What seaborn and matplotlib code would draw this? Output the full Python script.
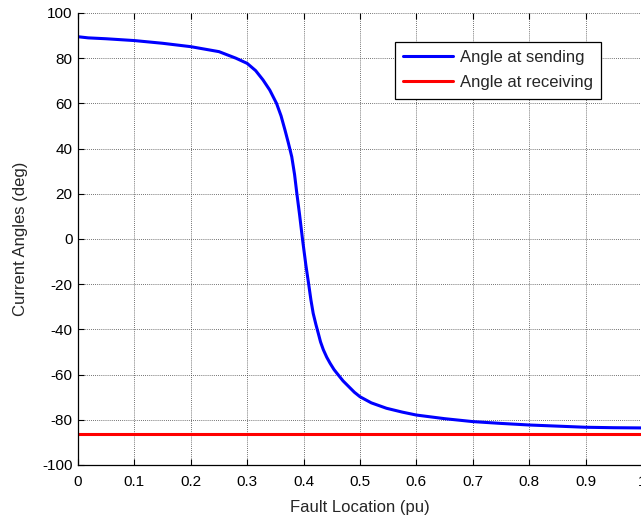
import matplotlib
matplotlib.use("Agg")
import matplotlib.pyplot as plt
import seaborn as sns
import pandas as pd

# ---- data ----
fault_location = [0.0, 0.018, 0.05, 0.1, 0.15, 0.2, 0.25, 0.28, 0.3, 0.315, 0.328,
                  0.34, 0.352, 0.36, 0.367, 0.373, 0.379, 0.384, 0.388, 0.393, 0.398,
                  0.404, 0.409, 0.413, 0.417, 0.422, 0.426, 0.43, 0.435, 0.441, 0.447,
                  0.454, 0.461, 0.47, 0.48, 0.49, 0.5, 0.52, 0.547, 0.575, 0.6, 0.65,
                  0.7, 0.75, 0.8, 0.85, 0.9, 0.95, 1.0]
angle_sending = [89.5, 89.0, 88.6, 87.8, 86.6, 85.1, 82.9, 80.0, 77.7, 74.5, 70.4,
                 65.9, 60.0, 54.5, 48.2, 42.5, 36.4, 28.5, 20.2, 10.5, 0.0,
                 -11.5, -20.0, -27.0, -32.9, -38.0, -41.7, -45.5, -49.0, -52.3, -55.0,
                 -57.8, -60.0, -62.8, -65.3, -67.8, -69.8, -72.5, -74.9, -76.6, -77.9, -79.5,
                 -80.8, -81.6, -82.3, -82.8, -83.3, -83.5, -83.6]
receiving_x = [0.0, 1.0]
angle_receiving = [-86.4, -86.4]

series_names = ["Angle at sending", "Angle at receiving"]
x_ticks = [0, 0.1, 0.2, 0.3, 0.4, 0.5, 0.6, 0.7, 0.8, 0.9, 1]
x_tick_labels = ["0", "0.1", "0.2", "0.3", "0.4", "0.5", "0.6", "0.7", "0.8", "0.9", "1"]
y_ticks = [-100, -80, -60, -40, -20, 0, 20, 40, 60, 80, 100]

df_send = pd.DataFrame({"x": fault_location, "y": angle_sending, "s": series_names[0]})
df_recv = pd.DataFrame({"x": receiving_x, "y": angle_receiving, "s": series_names[1]})

sns.set_style("white")
plt.rcParams["font.family"] = ["Liberation Sans", "DejaVu Sans"]
plt.rcParams["axes.unicode_minus"] = False

fig = plt.figure(figsize=(6.41, 5.15), dpi=100)
ax = fig.add_axes([78 / 641, 50 / 515, 564 / 641, 452 / 515])

sns.lineplot(data=df_send, x="x", y="y", color="#0000ff", lw=2.2, ax=ax,
             label=series_names[0], estimator=None, sort=False)
sns.lineplot(data=df_recv, x="x", y="y", color="#ff0000", lw=2.2, ax=ax,
             label=series_names[1], estimator=None, sort=False)

ax.set_xlim(0, 1)
ax.set_ylim(-100, 100)
ax.set_xticks(x_ticks)
ax.set_xticklabels(x_tick_labels)
ax.set_yticks(y_ticks)
ax.grid(True, color="#444444", linestyle=(0, (1, 1.5)), linewidth=0.6)
ax.set_axisbelow(True)
ax.tick_params(direction="in", length=4, width=0.8, labelsize=11, colors="black",
               top=True, bottom=True, left=True, right=False)
ax.tick_params(axis="x", pad=7)
ax.tick_params(axis="y", pad=4)
for side in ["left", "bottom"]:
    ax.spines[side].set_color("black")
    ax.spines[side].set_linewidth(0.9)
ax.spines["top"].set_visible(False)
ax.spines["right"].set_visible(False)

ax.set_xlabel("Fault Location (pu)", fontsize=12, labelpad=8)
ax.set_ylabel("Current Angles (deg)", fontsize=12, labelpad=10)

leg = ax.legend(loc="upper left", bbox_to_anchor=((395 - 78) / 564, (465 - 42) / 452),
                frameon=True, fancybox=False, fontsize=12, handlelength=3.0,
                handletextpad=0.4, borderpad=0.5, labelspacing=0.6,
                borderaxespad=0)
leg.get_frame().set_edgecolor("black")
leg.get_frame().set_linewidth(0.9)
leg.get_frame().set_alpha(1)

fig.savefig("out.png", dpi=100)
